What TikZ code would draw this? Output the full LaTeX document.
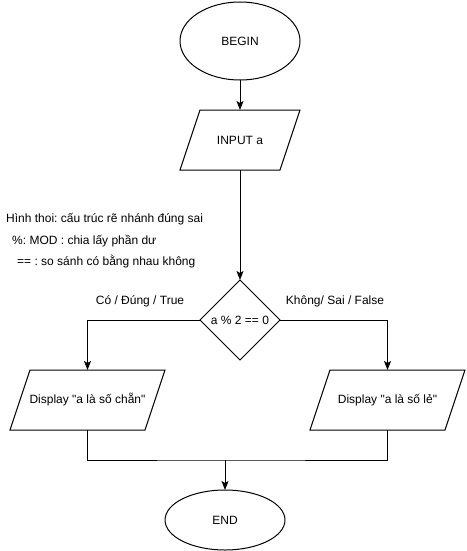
\documentclass[tikz,border=0pt]{standalone}
\usepackage{fontspec}
\setmainfont{Liberation Sans}
\usetikzlibrary{shapes.geometric,arrows.meta,calc}
\frenchspacing
\begin{document}
\begin{tikzpicture}[x=1pt,y=-1pt,
  font=\fontsize{12pt}{14pt}\selectfont,
  base/.style={draw=black,line width=1pt,inner sep=0pt,outer sep=0pt},
  term/.style={base,ellipse,minimum width=120pt},
  io/.style={inner sep=0pt,outer sep=0pt,minimum height=60pt},
  dec/.style={base,diamond,minimum width=80pt,minimum height=80pt},
  conn/.style={line width=1pt,-{Stealth[length=9pt,width=7pt,inset=2pt]}},
  wire/.style={line width=1pt},
  lbl/.style={inner sep=0pt},
  note/.style={inner sep=0pt,anchor=base west}]
\useasboundingbox (0,0) rectangle (466,551);
\node[term,minimum height=78pt] (begin) at (240,41) {BEGIN};
\node[io,minimum width=120pt] (input) at (240,140) {INPUT a};
\node[dec] (cond) at (240,320) {a \% 2 == 0};
\node[io,minimum width=155pt] (yes) at (87.5,400) {Display \textquotedbl a là số chẵn\textquotedbl};
\node[io,minimum width=155pt] (no) at (387.5,400) {Display \textquotedbl a là số lẻ\textquotedbl};
\node[term,minimum height=60pt] (end) at (225,520) {END};
\foreach \n in {input,yes,no}
  \draw[wire,line join=miter] (\n.north west) ++(20,0) -- (\n.north east) -- ($(\n.south east)-(20,0)$) -- (\n.south west) -- cycle;
\coordinate (m) at (225,460);
\draw[conn] (begin.south) -- (input.north);
\draw[conn] (input.south) -- (cond.north);
\draw[conn] (cond.west) -| (yes.north);
\draw[conn] (cond.east) -| (no.north);
\draw[wire] (yes.south) |- (m) -| (no.south);
\draw[conn] (m) -- (end.north);
\node[lbl] (lyes) at (140,301) {Có / Đúng / True};
\node[lbl] (lno) at (335,301) {Không/ Sai / False};
\node[note] (c1) at (6,222) {Hình thoi: cấu trúc rẽ nhánh đúng sai};
\node[note] (c2) at (12,244) {\%: MOD : chia lấy phần dư};
\node[note] (c3) at (17,265) {== : so sánh có bằng nhau không};
\end{tikzpicture}
\end{document}
